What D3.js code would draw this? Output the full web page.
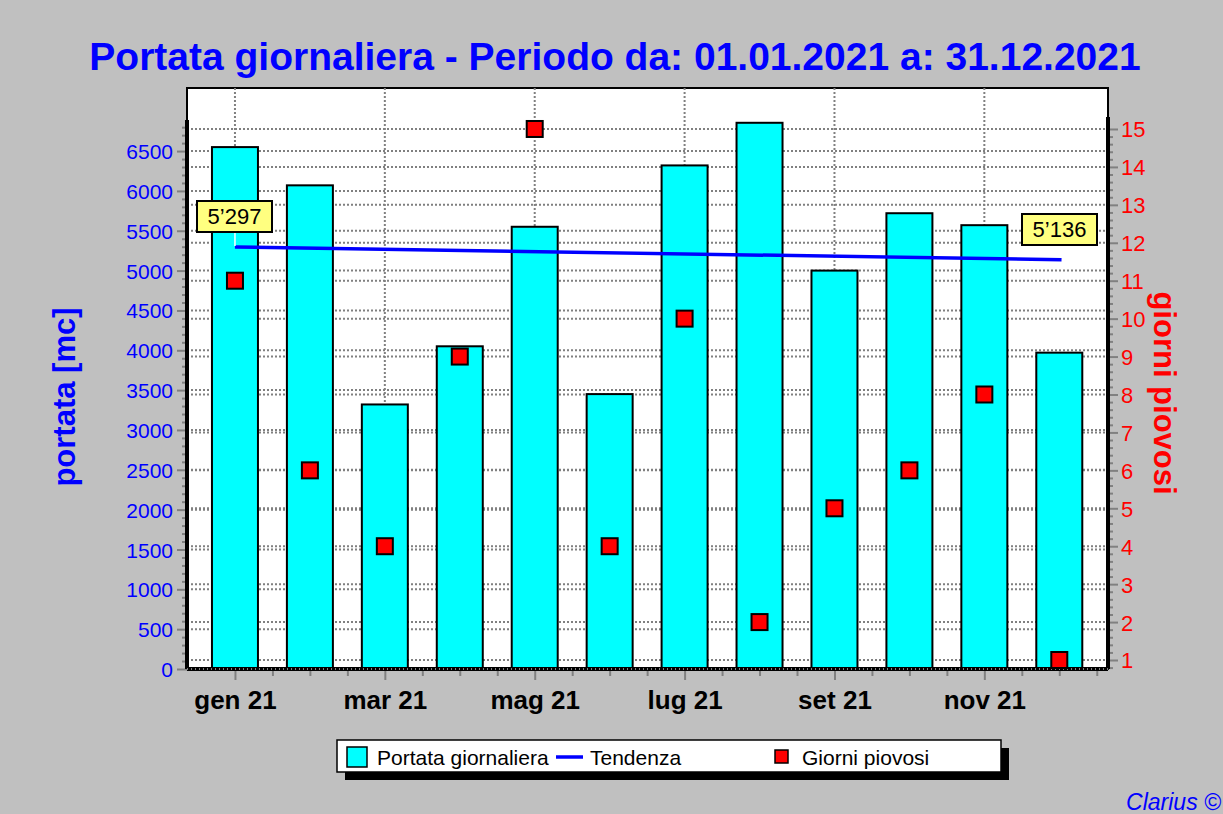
<!DOCTYPE html>
<html>
<head>
<meta charset="utf-8">
<script src="https://cdn.jsdelivr.net/npm/d3@7"></script>
<style>
	body { margin: 0; background: #c0c0c0; }
	svg { display: block; font-family: Arial, 'Liberation Sans', sans-serif; }
</style>
</head>
<body>
<div id="graph"></div>
<script>
const months = ['gen 21', 'feb 21', 'mar 21', 'apr 21', 'mag 21', 'giu 21', 'lug 21', 'ago 21', 'set 21', 'ott 21', 'nov 21', 'dic 21'];
const portata = [6550, 6070, 3320, 4050, 5550, 3450, 6320, 6855, 5000, 5720, 5570, 3970];
const giorniPiovosi = [11, 6, 4, 9, 15, 4, 10, 2, 5, 6, 8, 1];
const tendenza = [5297, 5136];
const tendenzaLabels = ["5\u2019297", "5\u2019136"];
const leftTicks = [0, 500, 1000, 1500, 2000, 2500, 3000, 3500, 4000, 4500, 5000, 5500, 6000, 6500];
const rightTicks = [1, 2, 3, 4, 5, 6, 7, 8, 9, 10, 11, 12, 13, 14, 15];

function drawGraph() {
	const width = 1223, height = 814;
	const plot = { left: 187, right: 1108, top: 88, bottom: 669 };

	const svg = d3.select('#graph').append('svg').attr('width', width).attr('height', height);

	const x = d3.scaleLinear().domain([-0.64, 11.65]).range([plot.left, plot.right]);
	const yL = d3.scaleLinear().domain([0, 6890]).range([plot.bottom, 120]);
	const yR = d3.scaleLinear().domain([0.763, 15.316]).range([plot.bottom, 117]);

	// plot area
	svg.append('rect')
		.attr('x', plot.left).attr('y', plot.top)
		.attr('width', plot.right - plot.left).attr('height', plot.bottom - plot.top)
		.attr('fill', '#fff').attr('stroke', '#000').attr('stroke-width', 2);

	// grid
	const grid = svg.append('g').attr('stroke', '#808080').attr('stroke-width', 2).attr('stroke-dasharray', '2,2');
	grid.selectAll('.gl').data(leftTicks.slice(1)).enter().append('line')
		.attr('x1', plot.left).attr('x2', plot.right)
		.attr('y1', (d) => yL(d)).attr('y2', (d) => yL(d));
	grid.selectAll('.gr').data(rightTicks).enter().append('line')
		.attr('x1', plot.left).attr('x2', plot.right)
		.attr('y1', (d) => yR(d)).attr('y2', (d) => yR(d));
	grid.selectAll('.gv').data(d3.range(0, 12, 2)).enter().append('line')
		.attr('x1', (d) => x(d)).attr('x2', (d) => x(d))
		.attr('y1', plot.top).attr('y2', plot.bottom);

	// bars
	const barW = 46;
	svg.selectAll('.bar').data(portata).enter().append('rect')
		.attr('x', (d, i) => x(i) - barW / 2)
		.attr('y', (d) => yL(d))
		.attr('width', barW)
		.attr('height', (d) => plot.bottom - yL(d))
		.attr('fill', '#00ffff').attr('stroke', '#000').attr('stroke-width', 2);

	// left axis
	const leftAxis = d3.axisLeft(yL).tickValues(leftTicks).tickSize(10).tickSizeOuter(0).tickPadding(4).tickFormat(d3.format('d'));
	const gL = svg.append('g').attr('transform', `translate(${plot.left},0)`).call(leftAxis);
	gL.select('.domain').remove();
	gL.selectAll('.tick line').attr('stroke', '#808080').attr('stroke-width', 2);
	gL.selectAll('.tick text').attr('fill', '#0000ff').style('font-size', '21px').attr('dy', '0.36em');
	const leftMinor = d3.axisLeft(yL).tickValues(d3.range(100, 6900, 100).filter((v) => v % 500)).tickSize(5).tickFormat('');
	const gLm = svg.append('g').attr('transform', `translate(${plot.left},0)`).call(leftMinor);
	gLm.select('.domain').remove();
	gLm.selectAll('.tick line').attr('stroke', '#808080').attr('stroke-width', 2);
	svg.append('line').attr('x1', plot.left).attr('x2', plot.left).attr('y1', 120).attr('y2', plot.bottom)
		.attr('stroke', '#000').attr('stroke-width', 4);

	// right axis
	const rightAxis = d3.axisRight(yR).tickValues(rightTicks).tickSize(10).tickSizeOuter(0).tickPadding(3);
	const gR = svg.append('g').attr('transform', `translate(${plot.right},0)`).call(rightAxis);
	gR.select('.domain').remove();
	gR.selectAll('.tick line').attr('stroke', '#808080').attr('stroke-width', 2);
	gR.selectAll('.tick text').attr('fill', '#ff0000').style('font-size', '22px').attr('dy', '0.36em');
	const rightMinor = d3.axisRight(yR).tickValues(d3.range(4, 76).map((v) => v / 5).filter((v) => v % 1)).tickSize(5).tickFormat('');
	const gRm = svg.append('g').attr('transform', `translate(${plot.right},0)`).call(rightMinor);
	gRm.select('.domain').remove();
	gRm.selectAll('.tick line').attr('stroke', '#808080').attr('stroke-width', 2);
	svg.append('line').attr('x1', plot.right).attr('x2', plot.right).attr('y1', 117).attr('y2', plot.bottom)
		.attr('stroke', '#000').attr('stroke-width', 4);

	// bottom axis
	const bottomAxis = d3.axisBottom(x).tickValues(d3.range(0, 12, 2)).tickSize(10).tickPadding(11)
		.tickFormat((d) => months[d]);
	const gB = svg.append('g').attr('transform', `translate(0,${plot.bottom + 1})`).call(bottomAxis);
	gB.select('.domain').remove();
	gB.selectAll('.tick line').attr('stroke', '#808080').attr('stroke-width', 2);
	gB.selectAll('.tick text').attr('fill', '#000').style('font-size', '26px').style('font-weight', 'bold');
	const bottomMinor = d3.axisBottom(x).tickValues(d3.range(1, 24).map((v) => v / 2).filter((v) => v % 2)).tickSize(6).tickFormat('');
	const gBm = svg.append('g').attr('transform', `translate(0,${plot.bottom + 1})`).call(bottomMinor);
	gBm.select('.domain').remove();
	gBm.selectAll('.tick line').attr('stroke', '#808080').attr('stroke-width', 2);
	svg.append('line').attr('x1', plot.left).attr('x2', plot.right).attr('y1', plot.bottom).attr('y2', plot.bottom)
		.attr('stroke', '#000').attr('stroke-width', 4);
	svg.append('line').attr('x1', plot.left).attr('x2', plot.right).attr('y1', plot.bottom).attr('y2', plot.bottom)
		.attr('stroke', '#fff').attr('stroke-width', 1).attr('stroke-dasharray', '1,3');

	// trend
	const trendX = [0, 11.03];
	svg.append('line')
		.attr('x1', x(trendX[0])).attr('y1', yL(tendenza[0]))
		.attr('x2', x(trendX[1])).attr('y2', yL(tendenza[1]))
		.attr('stroke', '#0000ff').attr('stroke-width', 3.5);
	svg.append('line').attr('x1', x(0)).attr('x2', x(0)).attr('y1', 232).attr('y2', yL(tendenza[0]) - 1)
		.attr('stroke', '#fff').attr('stroke-width', 1.5);

	// squares
	const sq = 16;
	svg.selectAll('.sq').data(giorniPiovosi).enter().append('rect')
		.attr('x', (d, i) => x(i) - sq / 2)
		.attr('y', (d) => yR(d) - sq / 2)
		.attr('width', sq).attr('height', sq)
		.attr('fill', '#ff0000').attr('stroke', '#000').attr('stroke-width', 2);

	// trend labels
	const labelBoxes = [
		{ x: 197, y: 201, w: 75, h: 31 },
		{ x: 1022, y: 214, w: 75, h: 31 },
	];
	labelBoxes.forEach((b, i) => {
		svg.append('rect').attr('x', b.x).attr('y', b.y).attr('width', b.w).attr('height', b.h)
			.attr('fill', '#ffff80').attr('stroke', '#000').attr('stroke-width', 2);
		svg.append('text').attr('x', b.x + b.w / 2).attr('y', b.y + b.h / 2).attr('dy', '0.36em')
			.attr('text-anchor', 'middle').style('font-size', '22px').text(tendenzaLabels[i]);
	});

	// title
	svg.append('text').attr('x', 615).attr('y', 70).attr('text-anchor', 'middle')
		.attr('fill', '#0000ff').style('font-size', '39px').style('font-weight', 'bold')
		.text('Portata giornaliera - Periodo da: 01.01.2021 a: 31.12.2021');

	// axis titles
	svg.append('text').attr('transform', 'translate(75,397) rotate(-90)').attr('text-anchor', 'middle')
		.attr('fill', '#0000ff').style('font-size', '31px').style('font-weight', 'bold').text('portata [mc]');
	svg.append('text').attr('transform', 'translate(1154,393) rotate(90)').attr('text-anchor', 'middle')
		.attr('fill', '#ff0000').style('font-size', '31px').style('font-weight', 'bold').text('giorni piovosi');

	// legend
	const lg = svg.append('g');
	lg.append('rect').attr('x', 345).attr('y', 748).attr('width', 664).attr('height', 32).attr('fill', '#000');
	lg.append('rect').attr('x', 337).attr('y', 740).attr('width', 664).attr('height', 32)
		.attr('fill', '#fff').attr('stroke', '#000').attr('stroke-width', 1.5);
	lg.append('rect').attr('x', 347).attr('y', 747).attr('width', 20).attr('height', 20)
		.attr('fill', '#00ffff').attr('stroke', '#000').attr('stroke-width', 1.5);
	lg.append('text').attr('x', 377).attr('y', 765).style('font-size', '21px').text('Portata giornaliera');
	lg.append('line').attr('x1', 556).attr('x2', 583).attr('y1', 757).attr('y2', 757).attr('stroke', '#0000ff').attr('stroke-width', 3.5);
	lg.append('text').attr('x', 590).attr('y', 765).style('font-size', '21px').text('Tendenza');
	lg.append('rect').attr('x', 775).attr('y', 750).attr('width', 13).attr('height', 13)
		.attr('fill', '#ff0000').attr('stroke', '#000').attr('stroke-width', 1.5);
	lg.append('text').attr('x', 802).attr('y', 765).style('font-size', '21px').text('Giorni piovosi');

	// signature
	svg.append('text').attr('x', 1221).attr('y', 810).attr('text-anchor', 'end')
		.attr('fill', '#0000ff').style('font-size', '23px').style('font-style', 'italic').text('Clarius ©');
}

drawGraph();
</script>
</body>
</html>
